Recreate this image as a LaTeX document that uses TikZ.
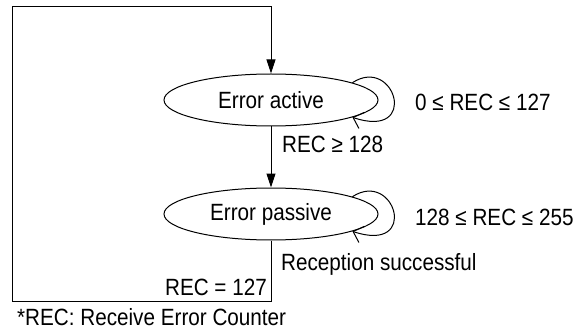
\documentclass[tikz,border=0pt]{standalone}
\usepackage{fontspec}
\setmainfont[FakeStretch=0.88]{Liberation Sans}
\usetikzlibrary{shapes.geometric,arrows.meta}
\begin{document}
\begin{tikzpicture}[x=1pt,y=1pt,
  every node/.style={font=\fontsize{23.5}{27}\selectfont, inner sep=0pt},
  state/.style={ellipse, draw, line width=1pt, minimum width=214pt, minimum height=52pt},
  flow/.style={line width=1pt, -{Triangle[length=14pt,width=9pt]}},
  loop/.style={line width=1pt, -{Straight Barb[length=9pt,width=17pt]}},
  lbl/.style={anchor=base west}]
\useasboundingbox (0,0) rectangle (580,-331);
\node[state] (e1) at (271,-100) {Error active};
\node[state] (e2) at (271,-214) {Error passive};
\coordinate (tl) at (12,-7);
\coordinate (bl) at (12,-301);
\draw[flow] (e2.south) -- (e2.south |- bl) -- (bl) -- (tl) -- (e1.north |- tl) -- (e1.north);
\draw[flow] (e1.south) -- (e2.north);
\draw[loop] (e1.12) .. controls (395,-55) and (420,-140) .. (e1.-12);
\draw[loop] (e2.12) .. controls (395,-169) and (420,-254) .. (e2.-12);
\node[lbl] (t1) at (282,-153) {REC ≥ 128};
\node[lbl] (t2) at (415,-111) {0 ≤ REC ≤ 127};
\node[lbl] (t3) at (415,-225) {128 ≤ REC ≤ 255};
\node[lbl] (t4) at (281,-270) {Reception successful};
\node[anchor=base east] (t5) at (267,-295) {REC = 127};
\node[lbl] (t6) at (17,-325) {*REC: Receive Error Counter};
\end{tikzpicture}
\end{document}
